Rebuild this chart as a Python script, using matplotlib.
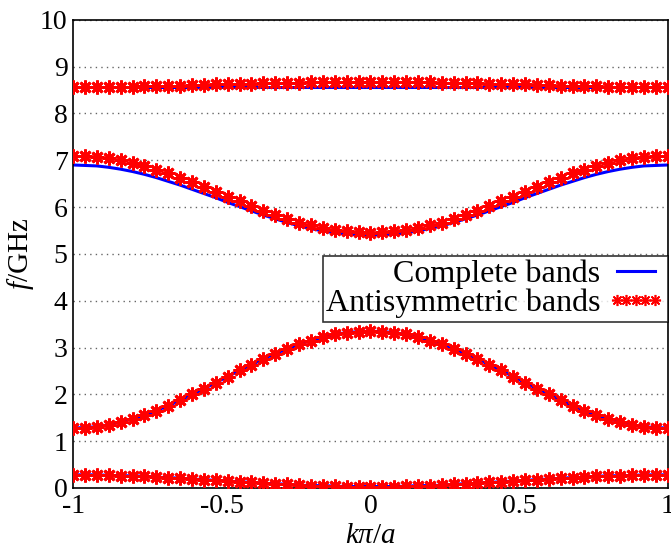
import numpy as np
import matplotlib
matplotlib.use('Agg')
import matplotlib.pyplot as plt

# wave number, k*pi/a
k = np.linspace(-1, 1, 51)

# antisymmetric bands (red markers), GHz
anti_b1 = [0.28, 0.28, 0.28, 0.27, 0.26, 0.26, 0.25, 0.23, 0.22, 0.21, 0.19, 0.18, 0.16, 0.15, 0.13, 0.12, 0.10, 0.09, 0.08, 0.06, 0.05, 0.05, 0.04, 0.03, 0.03,
           0.03,
           0.03, 0.03, 0.04, 0.05, 0.05, 0.06, 0.08, 0.09, 0.10, 0.12, 0.13, 0.15, 0.16, 0.18, 0.19, 0.21, 0.22, 0.23, 0.25, 0.26, 0.26, 0.27, 0.28, 0.28, 0.28]
anti_b2 = [1.28, 1.29, 1.31, 1.35, 1.41, 1.48, 1.56, 1.65, 1.76, 1.87, 2.00, 2.12, 2.25, 2.38, 2.51, 2.63, 2.76, 2.87, 2.97, 3.07, 3.15, 3.22, 3.28, 3.32, 3.34,
           3.35,
           3.34, 3.32, 3.28, 3.22, 3.15, 3.07, 2.97, 2.87, 2.76, 2.63, 2.51, 2.38, 2.25, 2.12, 2.00, 1.87, 1.76, 1.65, 1.56, 1.48, 1.41, 1.35, 1.31, 1.29, 1.28]
anti_b3 = [7.10, 7.09, 7.07, 7.04, 7.00, 6.94, 6.88, 6.80, 6.72, 6.63, 6.53, 6.43, 6.33, 6.22, 6.12, 6.02, 5.92, 5.83, 5.75, 5.67, 5.61, 5.55, 5.51, 5.48, 5.46,
           5.45,
           5.46, 5.48, 5.51, 5.55, 5.61, 5.67, 5.75, 5.83, 5.92, 6.02, 6.12, 6.22, 6.33, 6.43, 6.53, 6.63, 6.72, 6.80, 6.88, 6.94, 7.00, 7.04, 7.07, 7.09, 7.10]
anti_b4 = [8.56, 8.56, 8.56, 8.56, 8.57, 8.57, 8.58, 8.58, 8.59, 8.59, 8.60, 8.61, 8.62, 8.62, 8.63, 8.64, 8.65, 8.65, 8.66, 8.66, 8.67, 8.67, 8.68, 8.68, 8.68,
           8.68,
           8.68, 8.68, 8.68, 8.67, 8.67, 8.66, 8.66, 8.65, 8.65, 8.64, 8.63, 8.62, 8.62, 8.61, 8.60, 8.59, 8.59, 8.58, 8.58, 8.57, 8.57, 8.56, 8.56, 8.56, 8.56]

# complete bands (blue lines), GHz
comp_b1 = anti_b1
comp_b2 = anti_b2
comp_b3 = [6.90, 6.89, 6.88, 6.85, 6.81, 6.76, 6.70, 6.63, 6.55, 6.47, 6.38, 6.29, 6.20, 6.10, 6.01, 5.92, 5.83, 5.75, 5.67, 5.60, 5.54, 5.49, 5.45, 5.42, 5.41,
           5.40,
           5.41, 5.42, 5.45, 5.49, 5.54, 5.60, 5.67, 5.75, 5.83, 5.92, 6.01, 6.10, 6.20, 6.29, 6.38, 6.47, 6.55, 6.63, 6.70, 6.76, 6.81, 6.85, 6.88, 6.89, 6.90]
comp_b4 = [8.56] * 51

plt.rcParams['font.family'] = ['Liberation Serif', 'DejaVu Serif']
plt.rcParams['mathtext.fontset'] = 'custom'
plt.rcParams['mathtext.rm'] = 'Liberation Serif'
plt.rcParams['mathtext.it'] = 'Liberation Serif:italic'

fig = plt.figure(figsize=(6.71, 5.52), dpi=100)
ax = fig.add_axes([0.109, 0.116, 0.886, 0.848])

for i, band in enumerate([comp_b1, comp_b2, comp_b3, comp_b4]):
    ax.plot(k, band, color='blue', lw=2.2, label='Complete bands' if i == 0 else None, zorder=2)
for i, band in enumerate([anti_b1, anti_b2, anti_b3, anti_b4]):
    ax.plot(k, band, ls='none', marker=(8, 2, 0), ms=10, mew=2.0, color='red',
            label='Antisymmetric bands' if i == 0 else None, zorder=3)

ax.set_xlim(-1, 1)
ax.set_ylim(0, 10)
ax.set_xticks([-1, -0.5, 0, 0.5, 1])
ax.set_xticklabels(['-1', '-0.5', '0', '0.5', '1'])
ax.set_yticks(range(11))
ax.tick_params(labelsize=20, direction='in', length=0, pad=4)
ax.grid(axis='y', ls=(0, (1, 3)), color='black', lw=1, alpha=0.6)
for s in ax.spines.values():
    s.set_linewidth(1.2)

ax.set_xlabel(r'$k\pi/a$', fontsize=21, labelpad=3)
ax.set_ylabel(r'$f$/GHz', fontsize=21, labelpad=3)

leg = ax.legend(loc='upper right', bbox_to_anchor=(1.0, 0.495), markerfirst=False, numpoints=5,
                fontsize=23, frameon=True, fancybox=False, edgecolor='black', handlelength=1.8,
                handletextpad=0.2, borderpad=0.1, labelspacing=0.0, markerscale=0.8, borderaxespad=0)
leg.get_frame().set_linewidth(1.2)
leg.legend_handles[1].set_markeredgewidth(1.2)
for t in leg.get_texts():
    t.set_ha('right')

fig.savefig('out.png', dpi=100)
